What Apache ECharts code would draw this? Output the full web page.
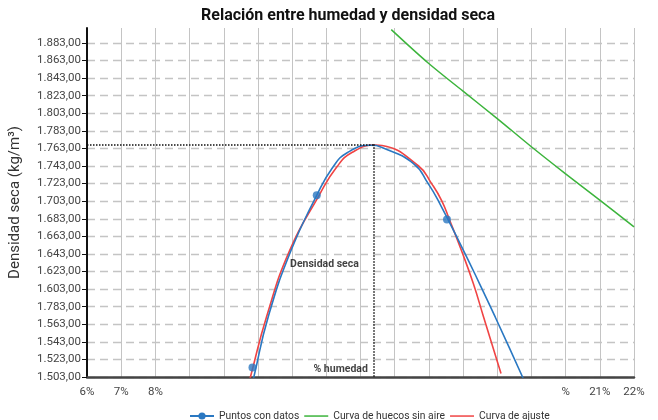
<!DOCTYPE html>
<html><head><meta charset="utf-8">
<script src="https://cdn.jsdelivr.net/npm/echarts@6/dist/echarts.min.js"></script>
<style>html,body{margin:0;padding:0;background:#fff}#c{width:658px;height:420px}</style>
</head><body><div id="c"></div>
<script>
// Tick labels (as printed in the reference)
const xTickLabels = ['6%','7%','8%','','','','','','','','','','','','%','21%','22%'];
const yTickLabels = ['1.503,00','1.523,00','1.543,00','1.563,00','1.783,00','1.603,00','1.623,00','1.643,00','1.663,00','1.683,00','1.703,00','1.723,00','1.743,00','1.763,00','1.783,00','1.803,00','1.823,00','1.843,00','1.863,00','1.883,00'];

// Puntos con datos
const puntosHumedad  = [10.84, 12.72, 16.53];
const puntosDensidad = [1513.7, 1709.7, 1682.1];

// Curva through the data points (blue)
const curvaDatosHumedad  = [10.81, 10.88, 11.30, 11.97, 12.72, 13.18, 13.61, 14.29, 14.63, 15.55, 15.98, 16.27, 17.01, 17.48, 17.94, 18.74, 18.85];
const curvaDatosDensidad = [1492.4, 1503.0, 1571.3, 1647.1, 1709.7, 1741.0, 1758.1, 1766.6, 1764.0, 1745.8, 1723.0, 1704.0, 1647.1, 1609.3, 1571.3, 1503.0, 1493.6];

// Curva de ajuste (red)
const ajusteHumedad  = [10.70, 10.78, 11.25, 11.93, 12.79, 13.30, 13.76, 14.44, 14.63, 15.69, 16.08, 16.37, 16.60, 16.95, 17.30, 17.60, 18.11];
const ajusteDensidad = [1492.4, 1503.0, 1571.3, 1647.1, 1709.7, 1741.6, 1758.6, 1766.9, 1766.3, 1743.3, 1723.0, 1704.0, 1682.1, 1647.1, 1609.3, 1571.3, 1506.9];

// Curva de huecos sin aire (green)
const huecosHumedad  = [14.90, 15.98, 16.99, 18.00, 18.98, 19.99, 20.98, 22.00];
const huecosDensidad = [1898.2, 1860.2, 1828.4, 1797.0, 1765.5, 1734.4, 1704.8, 1673.7];

// Óptimo (dotted guide lines)
const optimoHumedad = 14.39;
const optimoDensidad = 1767.7;

const zip = (a, b) => a.map((v, i) => [v, b[i]]);
const FONT = 'Roboto';
const yMin = 1503, yStep = 20, xMin = 6;
const LINE_ICON = 'path://M0,0M24,9M0,3.8L24,3.8L24,5.3L0,5.3Z';

const chart = echarts.init(document.getElementById('c'), null, {renderer: 'canvas'});
chart.setOption({
  animation: false,
  backgroundColor: '#fff',
  title: {
    text: 'Relación entre humedad y densidad seca',
    left: 196, top: 3,
    textStyle: {fontFamily: FONT, fontWeight: 'bold', fontSize: 16, color: '#111'}
  },
  legend: {
    data: [
      {name: 'Puntos con datos'},
      {name: 'Curva de huecos sin aire', icon: LINE_ICON},
      {name: 'Curva de ajuste', icon: LINE_ICON}
    ],
    left: 184, top: 406, itemWidth: 24, itemHeight: 9, itemGap: 5,
    textStyle: {fontFamily: FONT, fontSize: 10.3, color: '#333'}
  },
  grid: {left: 83, right: 24, top: 28, bottom: 43, containLabel: false},
  xAxis: {
    type: 'value', min: 6, max: 22, interval: 1,
    axisLine: {show: true, onZero: false, lineStyle: {color: '#444', width: 2.5}},
    axisTick: {show: false},
    axisLabel: {
      margin: 9, fontFamily: FONT, fontSize: 11.5, color: '#444',
      formatter: v => { const i = Math.round(v - xMin); return xTickLabels[i] !== undefined ? xTickLabels[i] : ''; }
    },
    splitLine: {show: true, lineStyle: {color: '#c4c4c4', width: 1}}
  },
  yAxis: {
    type: 'value', min: 1503, max: 1900, interval: 20,
    name: 'Densidad seca (kg/m³)', nameLocation: 'middle', nameGap: 64,
    nameTextStyle: {fontFamily: FONT, fontSize: 15, color: '#333'},
    axisLine: {show: true, lineStyle: {color: '#111', width: 2}},
    axisTick: {show: true, length: 5, lineStyle: {color: '#111', width: 1}},
    axisLabel: {
      margin: 6, fontFamily: FONT, fontSize: 11.5, color: '#444', showMaxLabel: false,
      formatter: v => { const k = (v - yMin) / yStep; const i = Math.round(k); return Math.abs(k - i) < 1e-6 && yTickLabels[i] !== undefined ? yTickLabels[i] : ''; }
    },
    splitLine: {show: true, showMaxLine: false, lineStyle: {color: '#c4c4c4', width: 1.3, type: [8, 5]}}
  },
  series: [
    {
      name: 'Puntos con datos', type: 'line', data: zip(curvaDatosHumedad, curvaDatosDensidad),
      smooth: 0.5, symbol: 'circle', symbolSize: 8, showSymbol: false, clip: true,
      lineStyle: {color: '#2a78c2', width: 1.6}, itemStyle: {color: '#2a78c2'}, z: 4
    },
    {
      name: 'Curva de huecos sin aire', type: 'line', data: zip(huecosHumedad, huecosDensidad),
      smooth: 0.3, symbol: 'none', clip: true,
      lineStyle: {color: '#3cb43c', width: 1.5}, itemStyle: {color: '#3cb43c'}
    },
    {
      name: 'Curva de ajuste', type: 'line', data: zip(ajusteHumedad, ajusteDensidad),
      smooth: 0.5, symbol: 'none', clip: true,
      lineStyle: {color: '#f04444', width: 1.6}, itemStyle: {color: '#f04444'}, z: 3,
      markLine: {
        silent: true, symbol: ['none', 'none'], animation: false,
        label: {show: false},
        lineStyle: {type: 'dotted', color: '#111', width: 1.5},
        data: [
          [{coord: [xMin, optimoDensidad]}, {coord: [optimoHumedad, optimoDensidad]}],
          [{coord: [optimoHumedad, optimoDensidad]}, {coord: [optimoHumedad, yMin]}]
        ]
      }
    },
    {
      name: 'Puntos con datos', type: 'scatter', data: zip(puntosHumedad, puntosDensidad),
      symbol: 'circle', symbolSize: 8, itemStyle: {color: '#2a78c2'}, z: 5
    },
    {
      type: 'scatter', silent: true, symbolSize: 0, z: 6,
      data: [
        {value: [optimoHumedad, 1631.2], label: {show: true, position: 'left', distance: 15, formatter: 'Densidad seca'}},
        {value: [optimoHumedad, 1511.8], label: {show: true, position: 'left', distance: 6, formatter: '% humedad'}}
      ],
      label: {fontFamily: FONT, fontWeight: 'bold', fontSize: 10.5, color: '#111'}
    }
  ]
});
</script></body></html>
